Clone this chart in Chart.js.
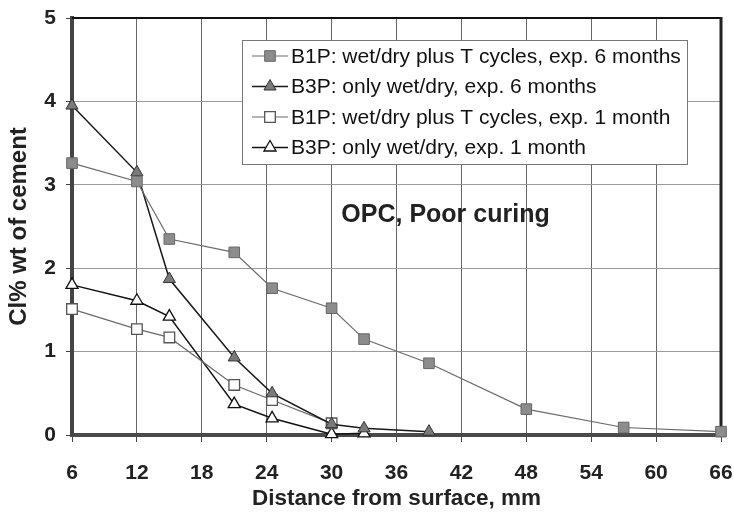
<!DOCTYPE html>
<html>
<head>
<meta charset="utf-8">
<script src="https://cdn.jsdelivr.net/npm/chart.js@4.4.1/dist/chart.umd.min.js"></script>
<style>
  html, body { margin: 0; padding: 0; background: #fff; }
  #wrap { width: 734px; height: 525px; }
</style>
</head>
<body>
<div id="wrap"><canvas id="myChart" width="734" height="525"></canvas></div>
<script>
// distances (mm) and Cl% values
const b1p6Dist = [6, 12, 15, 21, 24.5, 30, 33, 39, 48, 57, 66];
const b1p6Vals = [3.26, 3.04, 2.35, 2.19, 1.76, 1.52, 1.15, 0.86, 0.31, 0.09, 0.04];

const b3p6Dist = [6, 12, 15, 21, 24.5, 30, 33, 39];
const b3p6Vals = [3.95, 3.15, 1.87, 0.93, 0.50, 0.13, 0.08, 0.04];

const b1p1Dist = [6, 12, 15, 21, 24.5, 30];
const b1p1Vals = [1.51, 1.27, 1.17, 0.60, 0.42, 0.14];

const b3p1Dist = [6, 12, 15, 21, 24.5, 30, 33];
const b3p1Vals = [1.80, 1.61, 1.42, 0.37, 0.20, 0.01, 0.02];

const seriesLabels = [
    'B1P: wet/dry plus T cycles, exp. 6 months',
    'B3P: only wet/dry, exp. 6 months',
    'B1P: wet/dry plus T cycles, exp. 1 month',
    'B3P: only wet/dry, exp. 1 month'
];
const xTicks = [6, 12, 18, 24, 30, 36, 42, 48, 54, 60, 66];
const yTicks = [0, 1, 2, 3, 4, 5];
const noteText = 'OPC, Poor curing';

const FONT = "'Liberation Sans', Arial, Helvetica, sans-serif";

function toPoints(xs, ys) {
    return xs.map((x, i) => ({ x: x, y: ys[i] }));
}

// small marker painter used by the legend
function paintMarker(ctx, ds, x, y) {
    const r = ds.pointRadius;
    ctx.save();
    ctx.fillStyle = ds.pointBackgroundColor;
    ctx.strokeStyle = ds.pointBorderColor;
    ctx.lineWidth = ds.pointBorderWidth;
    ctx.beginPath();
    if (ds.pointStyle === 'rect') {
        const s = Math.SQRT1_2 * r;
        ctx.rect(x - s, y - s, 2 * s, 2 * s);
    } else {
        ctx.moveTo(x, y - r);
        ctx.lineTo(x + r * Math.sin(Math.PI / 3), y + r / 2);
        ctx.lineTo(x - r * Math.sin(Math.PI / 3), y + r / 2);
        ctx.closePath();
    }
    ctx.fill();
    ctx.stroke();
    ctx.restore();
}

// top and right frame lines (left/bottom come from the axes)
const framePlugin = {
    id: 'frame',
    beforeDatasetsDraw(chart) {
        const { ctx, chartArea } = chart;
        ctx.save();
        ctx.strokeStyle = '#111';
        ctx.lineWidth = 2;
        ctx.beginPath();
        ctx.moveTo(chartArea.left, chartArea.top);
        ctx.lineTo(chartArea.right, chartArea.top);
        ctx.stroke();
        ctx.lineWidth = 3;
        ctx.strokeStyle = '#222';
        ctx.beginPath();
        ctx.moveTo(chartArea.right, chartArea.top - 1);
        ctx.lineTo(chartArea.right, chartArea.bottom);
        ctx.stroke();
        ctx.restore();
    }
};

// legend box inside the plot and the text note
const insideLegend = {
    id: 'insideLegend',
    afterDraw(chart) {
        const { ctx, chartArea } = chart;
        const boxX = chartArea.left + 170;
        const boxY = chartArea.top + 22;
        const boxW = 445;
        const boxH = 124;
        ctx.save();
        ctx.fillStyle = '#fff';
        ctx.fillRect(boxX, boxY, boxW, boxH);
        ctx.strokeStyle = '#777';
        ctx.lineWidth = 1;
        ctx.strokeRect(boxX + 0.5, boxY + 0.5, boxW, boxH);

        ctx.font = '21px ' + FONT;
        ctx.textBaseline = 'middle';
        ctx.textAlign = 'left';
        chart.data.datasets.forEach((ds, i) => {
            const y = boxY + 16 + i * 30.5;
            ctx.strokeStyle = ds.borderColor;
            ctx.lineWidth = ds.borderWidth;
            ctx.beginPath();
            ctx.moveTo(boxX + 10, y);
            ctx.lineTo(boxX + 46, y);
            ctx.stroke();
            paintMarker(ctx, ds, boxX + 28, y);
            ctx.fillStyle = '#111';
            ctx.fillText(ds.label, boxX + 49, y + 1);
        });

        const xs = chart.scales.x, ys = chart.scales.y;
        ctx.font = 'bold 25px ' + FONT;
        ctx.fillStyle = '#222';
        ctx.fillText(noteText, xs.getPixelForValue(30.9), ys.getPixelForValue(2.64));
        ctx.restore();
    }
};

function initializeChart() {
    const ctx = document.getElementById('myChart').getContext('2d');
    return new Chart(ctx, {
        type: 'scatter',
        data: {
            datasets: [{
                label: seriesLabels[0],
                data: toPoints(b1p6Dist, b1p6Vals),
                showLine: true,
                borderColor: '#6a6a6a',
                borderWidth: 1.2,
                pointStyle: 'rect',
                pointRadius: 7.5,
                pointBackgroundColor: '#8c8c8c',
                pointBorderColor: '#666',
                pointBorderWidth: 1,
                clip: false
            }, {
                label: seriesLabels[1],
                data: toPoints(b3p6Dist, b3p6Vals),
                showLine: true,
                borderColor: '#1a1a1a',
                borderWidth: 1.5,
                pointStyle: 'triangle',
                pointRadius: 7,
                pointBackgroundColor: '#7a7a7a',
                pointBorderColor: '#333',
                pointBorderWidth: 1,
                clip: false
            }, {
                label: seriesLabels[2],
                data: toPoints(b1p1Dist, b1p1Vals),
                showLine: true,
                borderColor: '#6a6a6a',
                borderWidth: 1.2,
                pointStyle: 'rect',
                pointRadius: 7.5,
                pointBackgroundColor: '#fff',
                pointBorderColor: '#555',
                pointBorderWidth: 1.3,
                clip: false
            }, {
                label: seriesLabels[3],
                data: toPoints(b3p1Dist, b3p1Vals),
                showLine: true,
                borderColor: '#111',
                borderWidth: 1.5,
                pointStyle: 'triangle',
                pointRadius: 7,
                pointBackgroundColor: '#fff',
                pointBorderColor: '#111',
                pointBorderWidth: 1.3,
                clip: false
            }]
        },
        options: {
            responsive: false,
            animation: false,
            layout: { padding: { top: 18, right: 13, left: 0, bottom: 0 } },
            plugins: {
                legend: { display: false },
                tooltip: { enabled: false }
            },
            scales: {
                x: {
                    type: 'linear',
                    min: 6,
                    max: 66,
                    afterFit(scale) {
                        scale.height = 90;
                        scale.paddingLeft = 0;
                        scale.paddingRight = 0;
                    },
                    afterBuildTicks(scale) { scale.ticks = xTicks.map(v => ({ value: v })); },
                    grid: { color: '#666', lineWidth: 1, tickLength: 7, tickColor: '#444' },
                    border: { color: '#4a4a4a', width: 4 },
                    ticks: {
                        padding: 19,
                        color: '#222',
                        font: { family: FONT, size: 21, weight: 'bold' }
                    },
                    title: {
                        display: true,
                        text: 'Distance from surface, mm',
                        color: '#222',
                        padding: { top: 0, bottom: 13 },
                        font: { family: FONT, size: 22.5, weight: 'bold' }
                    }
                },
                y: {
                    min: 0,
                    max: 5,
                    afterFit(scale) {
                        scale.width = 72;
                        scale.paddingTop = 0;
                        scale.paddingBottom = 0;
                    },
                    afterBuildTicks(scale) { scale.ticks = yTicks.map(v => ({ value: v })); },
                    grid: { color: '#9a9a9a', lineWidth: 1, tickLength: 6, tickColor: '#444' },
                    border: { color: '#444', width: 4 },
                    ticks: {
                        padding: 10,
                        color: '#222',
                        font: { family: FONT, size: 21, weight: 'bold' }
                    },
                    title: {
                        display: true,
                        text: 'Cl% wt of cement',
                        color: '#222',
                        padding: { top: 5, bottom: 0 },
                        font: { family: FONT, size: 24, weight: 'bold' }
                    }
                }
            }
        },
        plugins: [framePlugin, insideLegend]
    });
}

initializeChart();
</script>
</body>
</html>
